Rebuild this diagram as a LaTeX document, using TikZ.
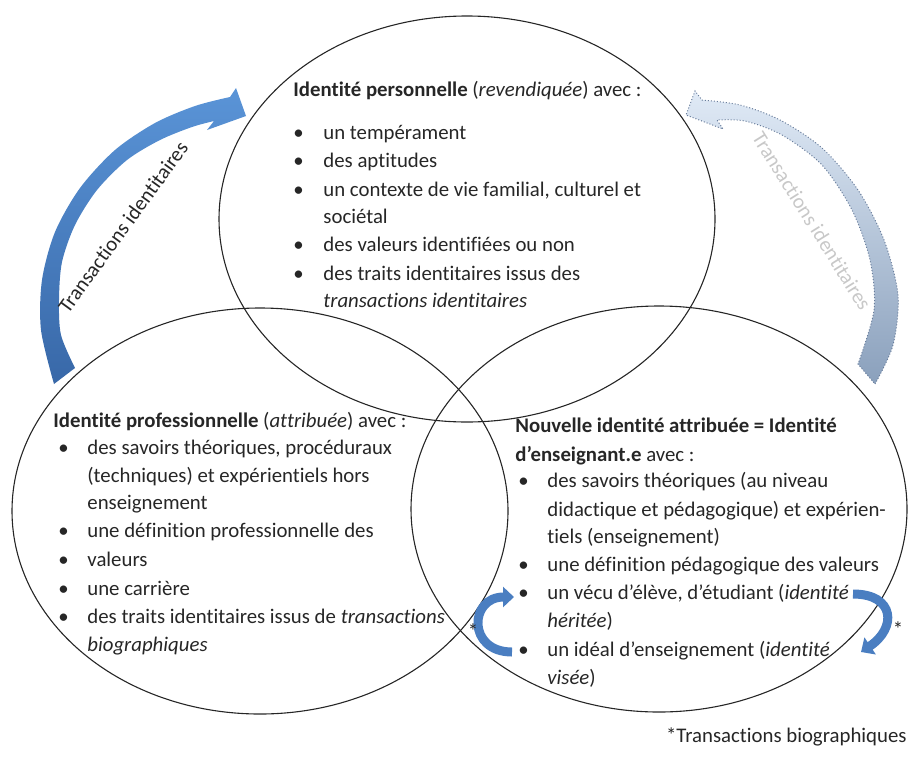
\documentclass[tikz,border=0pt]{standalone}
\usepackage{fontspec}
\setmainfont{Carlito}[Ligatures=NoCommon]
\usetikzlibrary{shapes.geometric,arrows.meta}

\definecolor{inkgrey}{RGB}{38,38,38}
\definecolor{arrblue}{RGB}{74,126,193}
\definecolor{arrlight}{RGB}{90,148,215}
\definecolor{arrdark}{RGB}{56,104,168}
\definecolor{palehead}{RGB}{224,234,246}
\definecolor{paletail}{RGB}{138,160,188}
\definecolor{paleline}{RGB}{105,125,155}
\definecolor{ghost}{RGB}{200,200,200}

\tikzset{
  zone/.style={draw=inkgrey, line width=0.55pt, ellipse, inner sep=0pt,
    minimum width=248pt, minimum height=203pt},
  txt/.style={anchor=base west, inner sep=0pt, text=inkgrey,
    font=\fontsize{10.4}{14}\selectfont},
  smallarr/.style={draw=arrblue, line width=4.5pt,
    -{Triangle[length=5.5pt,width=10pt]}},
}

\begin{document}
\begin{tikzpicture}[x=0.5pt,y=-0.5pt]
  \useasboundingbox (0,0) rectangle (908,760);

  % the three identities
  \node[zone] (perso) at (467,219) {};
  \node[zone] (pro) at (260,511) {};
  \node[zone] (ens) at (659,509) {};

  % transactions identitaires, left
  \shade[top color=arrlight, bottom color=arrdark]
    plot[smooth] coordinates {(54,384) (41,330) (42,280) (55,232) (80,188)
      (115,150) (155,123) (195,106) (230,97)}
    -- (236,88) -- (246,116) -- (207,130)
    -- plot[smooth] coordinates {(214,121) (192,127) (160,140) (127,160)
      (97,190) (75,225) (62,262) (59,300) (61,335) (75,368)}
    -- cycle;
  \node[txt, anchor=center, rotate=54] (tiL) at (123,227) {Transactions identitaires};

  % transactions identitaires, right
  \shadedraw[top color=palehead, bottom color=paletail, draw=paleline,
      densely dotted, line width=0.5pt]
    plot[smooth] coordinates {(875,384) (893,345) (898,295) (884,240)
      (858,190) (822,148) (780,120) (740,105) (702,100)}
    -- (695,91) -- (686,115) -- (723,129)
    -- plot[smooth] coordinates {(717,120) (745,121) (782,135) (822,165)
      (852,210) (870,260) (874,310) (858,364)}
    -- cycle;
  \node[txt, anchor=center, rotate=-58, text=ghost] (tiR) at (812,221) {Transactions identitaires};

  % identite personnelle
  \node[txt] (pH) at (293,96) {\textbf{Identité personnelle} (\textit{revendiquée}) avec :};
  \node[txt] (pb1) at (293,139) {\textbullet};
  \node[txt] (p1) at (323,139) {un tempérament};
  \node[txt] (pb2) at (293,167) {\textbullet};
  \node[txt] (p2) at (323,167) {des aptitudes};
  \node[txt] (pb3) at (293,196) {\textbullet};
  \node[txt] (p3) at (323,196) {un contexte de vie familial, culturel et};
  \node[txt] (p3b) at (323,223) {sociétal};
  \node[txt] (pb4) at (293,251) {\textbullet};
  \node[txt] (p4) at (323,251) {des valeurs identifiées ou non};
  \node[txt] (pb5) at (293,280) {\textbullet};
  \node[txt] (p5) at (323,280) {des traits identitaires issus des};
  \node[txt] (p5b) at (323,307) {\textit{transactions identitaires}};

  % identite professionnelle
  \node[txt] (rH) at (53,427) {\textbf{Identité professionnelle} (\textit{attribuée}) avec :};
  \node[txt] (rb1) at (58,454) {\textbullet};
  \node[txt] (r1) at (87,454) {des savoirs théoriques, procéduraux};
  \node[txt] (r1b) at (87,482) {(techniques) et expérientiels hors};
  \node[txt] (r1c) at (87,509) {enseignement};
  \node[txt] (rb2) at (58,537) {\textbullet};
  \node[txt] (r2) at (87,537) {une définition professionnelle des};
  \node[txt] (rb3) at (58,566) {\textbullet};
  \node[txt] (r3) at (87,566) {valeurs};
  \node[txt] (rb4) at (58,595) {\textbullet};
  \node[txt] (r4) at (87,595) {une carrière};
  \node[txt] (rb5) at (58,623) {\textbullet};
  \node[txt] (r5) at (87,623) {des traits identitaires issus de \textit{transactions}};
  \node[txt] (r5b) at (87,651) {\textit{biographiques}};

  % identite d'enseignant.e
  \node[txt] (eH) at (515,432) {\textbf{Nouvelle identité attribuée = Identité}};
  \node[txt] (eHb) at (515,461) {\textbf{d’enseignant.e} avec :};
  \node[txt] (eb1) at (518,487) {\textbullet};
  \node[txt] (e1) at (547,487) {des savoirs théoriques (au niveau};
  \node[txt] (e1b) at (547,516) {didactique et pédagogique) et expérien-};
  \node[txt] (e1c) at (547,543) {tiels (enseignement)};
  \node[txt] (eb2) at (518,571) {\textbullet};
  \node[txt] (e2) at (547,571) {une définition pédagogique des valeurs};
  \node[txt] (eb3) at (518,599) {\textbullet};
  \node[txt] (e3) at (547,599) {un vécu d’élève, d’étudiant (\textit{identité}};
  \node[txt] (e3b) at (547,627) {\textit{héritée})};
  \node[txt] (eb4) at (518,656) {\textbullet};
  \node[txt] (e4) at (547,656) {un idéal d’enseignement (\textit{identité}};
  \node[txt] (e4b) at (547,684) {\textit{visée})};

  % transactions biographiques
  \coordinate (lsA) at (512,652);
  \coordinate (lsB) at (514,597);
  \coordinate (rsA) at (853,594);
  \coordinate (rsB) at (861,652);
  \draw[smallarr] (lsA) .. controls +(-45,0) and +(-45,0) .. (lsB);
  \draw[smallarr] (rsA) .. controls +(42,0) and +(36,-24) .. (rsB);
  \node[txt, anchor=center] (stL) at (473,631) {*};
  \node[txt, anchor=center] (stR) at (898,629) {*};

  \node[txt, anchor=base east] (note) at (907,742) {*Transactions biographiques};
\end{tikzpicture}
\end{document}
